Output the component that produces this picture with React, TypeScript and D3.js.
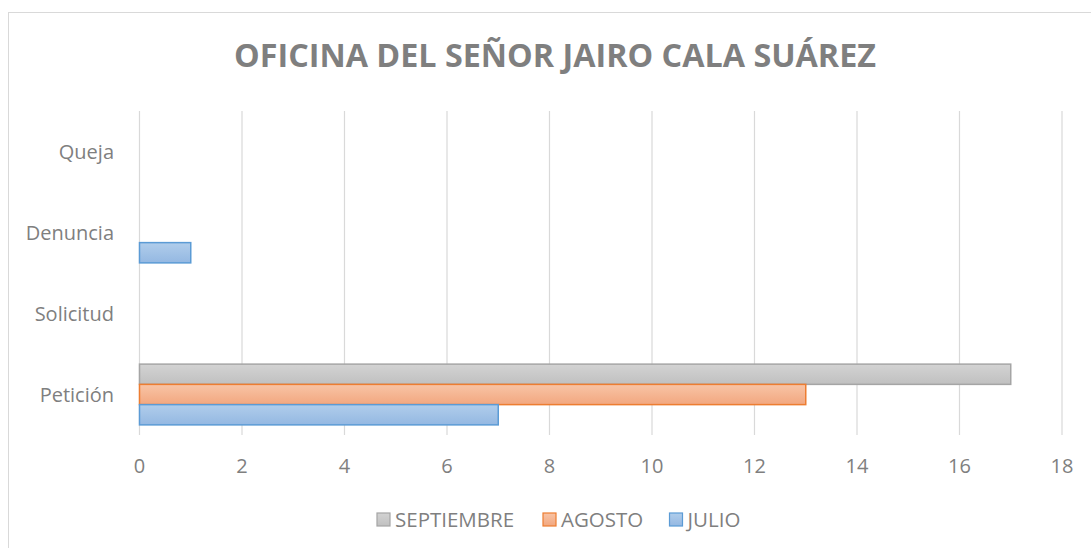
import React from "react";
import * as d3 from "d3";

const categories = ["Petición", "Solicitud", "Denuncia", "Queja"];
const seriesNames = ["SEPTIEMBRE", "AGOSTO", "JULIO"];
const julio = [7, 0, 1, 0];
const agosto = [13, 0, 0, 0];
const septiembre = [17, 0, 0, 0];
const xTicks = [0, 2, 4, 6, 8, 10, 12, 14, 16, 18];
const title = "OFICINA DEL SEÑOR JAIRO CALA SUÁREZ";

const seriesValues: Record<string, number[]> = {
  SEPTIEMBRE: septiembre,
  AGOSTO: agosto,
  JULIO: julio,
};

const styles: Record<string, { top: string; bottom: string; stroke: string }> = {
  SEPTIEMBRE: { top: "#d3d3d3", bottom: "#c0c0c0", stroke: "#a5a5a5" },
  AGOSTO: { top: "#f8c4a6", bottom: "#f2a77f", stroke: "#ed7d31" },
  JULIO: { top: "#b0cdeb", bottom: "#94b8e2", stroke: "#5b9bd5" },
};

const W = 1091;
const H = 548;
const FONT = "'Open Sans', 'Liberation Sans', sans-serif";
const TXT = "#7f7f7f";

export default function App() {
  const x = d3.scaleLinear().domain([0, 18]).range([139.5, 1062]);
  const y = d3
    .scaleBand<string>()
    .domain([...categories].reverse())
    .range([111, 435])
    .paddingInner(0)
    .paddingOuter(0);
  const inner = d3
    .scaleBand<string>()
    .domain(seriesNames)
    .range([0, y.bandwidth()])
    .paddingInner(0)
    .paddingOuter(0.5);

  const legendItems = [
    { name: "SEPTIEMBRE", x: 377 },
    { name: "AGOSTO", x: 543 },
    { name: "JULIO", x: 669.5 },
  ];

  return (
    <svg
      width={W}
      height={H}
      style={{ position: "absolute", left: 0, top: 0, background: "#fff" }}
      fontFamily={FONT}
    >
      <defs>
        {seriesNames.map((s) => (
          <linearGradient key={s} id={`g-${s}`} x1="0" y1="0" x2="0" y2="1">
            <stop offset="0" stopColor={styles[s].top} />
            <stop offset="1" stopColor={styles[s].bottom} />
          </linearGradient>
        ))}
      </defs>
      <rect x={8.5} y={12.5} width={W + 10} height={H + 10} fill="#fff" stroke="#d9d9d9" strokeWidth={1} />
      <text x={555} y={67} textAnchor="middle" fontSize={32.3} fontWeight="bold" fill={TXT}>
        {title}
      </text>
      {xTicks.map((t) => (
        <g key={t}>
          <line x1={x(t)} x2={x(t)} y1={111} y2={435} stroke="#d9d9d9" strokeWidth={1.2} />
          <text x={x(t)} y={473} textAnchor="middle" fontSize={20} fill={TXT}>
            {t}
          </text>
        </g>
      ))}
      {categories.map((c) => (
        <text
          key={c}
          x={114}
          y={(y(c) as number) + y.bandwidth() / 2 + 7}
          textAnchor="end"
          fontSize={20}
          fill={TXT}
        >
          {c}
        </text>
      ))}
      {seriesNames.map((s) =>
        categories.map((c, i) => {
          const v = seriesValues[s][i];
          if (v <= 0) return null;
          const y0 = (y(c) as number) + (inner(s) as number);
          return (
            <rect
              key={s + c}
              x={x(0)}
              y={y0}
              width={x(v) - x(0)}
              height={inner.bandwidth()}
              fill={`url(#g-${s})`}
              stroke={styles[s].stroke}
              strokeWidth={1.5}
            />
          );
        })
      )}
      {legendItems.map((l) => (
        <g key={l.name}>
          <rect x={l.x} y={513} width={13} height={13} fill={`url(#g-${l.name})`} stroke={styles[l.name].stroke} strokeWidth={1.2} />
          <text x={l.x + 18} y={527} fontSize={20.5} fill={TXT}>
            {l.name}
          </text>
        </g>
      ))}
    </svg>
  );
}
